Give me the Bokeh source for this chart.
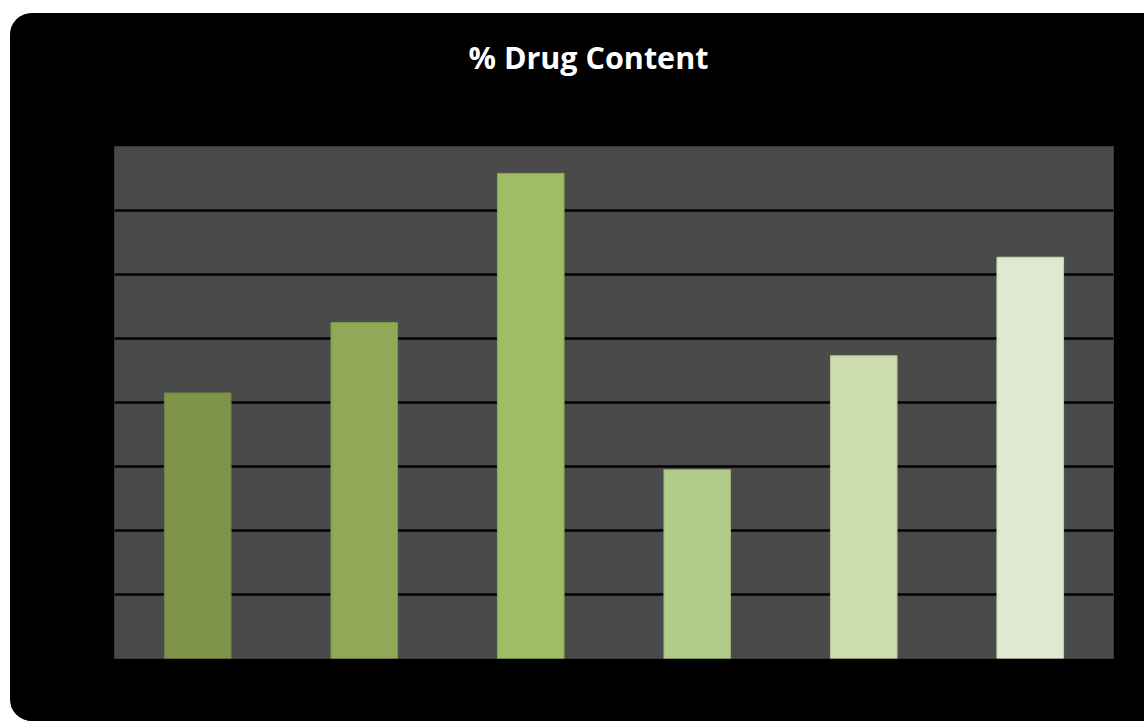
from bokeh.plotting import figure
from bokeh.models import ColumnDataSource, FixedTicker, Range1d, FactorRange
from bokeh.layouts import column
from bokeh.core.properties import value
from bokeh.embed import file_html
from bokeh.resources import INLINE

# Data (no axis labels in the original; values estimated on a 0-80 scale)
categories = ["F1", "F2", "F3", "F4", "F5", "F6"]
drug_content = [41.5, 52.5, 75.8, 29.5, 47.3, 62.7]
bar_colors = ["#7f9449", "#8fa957", "#9fbe64", "#b1cc88", "#cddcae", "#dfe9cf"]
edge_colors = ["#6f8240", "#7d944c", "#8ba858", "#9bb477", "#b5c39a", "#c5cfb6"]
grid_ticks = [10, 20, 30, 40, 50, 60, 70]
title_text = ["% Drug Content"]

# --- title strip (pixel-scaled ranges) ---
head = figure(width=1134, height=132, x_range=Range1d(0, 1134), y_range=Range1d(0, 132),
              x_axis_type=None, y_axis_type=None, output_backend="svg",
              toolbar_location=None, min_border=0, background_fill_color="#000000",
              border_fill_color="#000000", outline_line_color=None)
head.grid.visible = False
head.text(x=[538], y=[89], text=title_text, text_align="center",
          text_baseline="alphabetic", text_font=value("Open Sans"),
          text_font_style="bold", text_font_size="30.5px", text_color="#ffffff")

# --- bar chart ---
source = ColumnDataSource(dict(cat=categories, val=drug_content,
                               color=bar_colors, edge=edge_colors))

p = figure(width=1134, height=576, x_range=FactorRange(*categories, range_padding=0),
           y_range=Range1d(0, 80), output_backend="svg", toolbar_location=None,
           min_border_left=104, min_border_right=31, min_border_top=1,
           min_border_bottom=63, background_fill_color="#4a4a4a",
           border_fill_color="#000000", outline_line_color="#3a3a3a",
           outline_line_width=1)

p.vbar(x="cat", top="val", width=0.4, source=source, fill_color="color",
       line_color="edge", line_width=1)

p.xaxis.visible = False
p.yaxis.visible = False
p.xgrid.visible = False
p.ygrid.ticker = FixedTicker(ticks=grid_ticks)
p.ygrid.grid_line_color = "#000000"
p.ygrid.grid_line_width = 2.5

layout = column(head, p, spacing=0)
layout.margin = (13, 0, 0, 10)
layout.styles = {"border-radius": "22px 0 0 22px", "overflow": "hidden",
                 "background-color": "#000000"}

open("out.html", "w").write(file_html(layout, INLINE))
